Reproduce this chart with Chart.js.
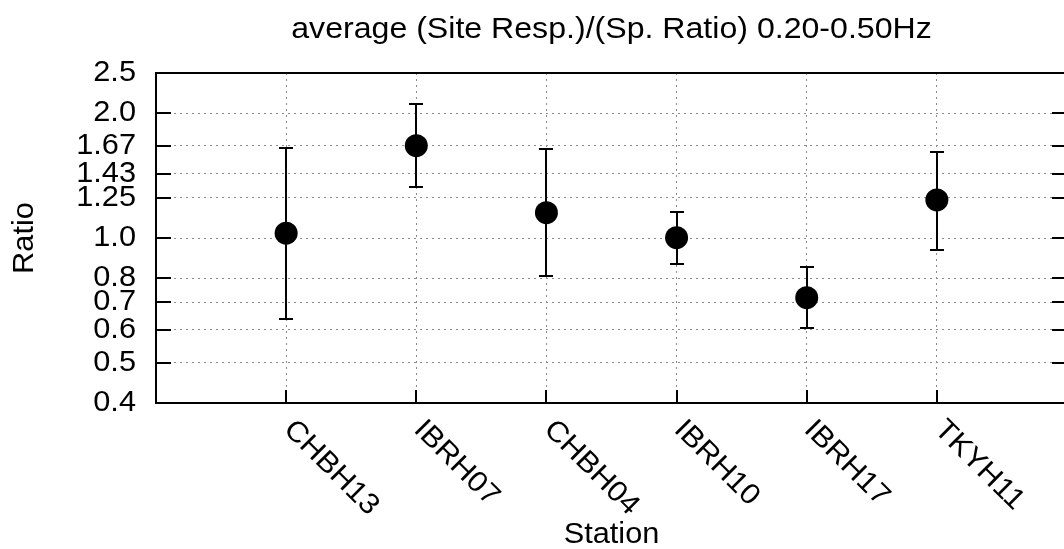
<!DOCTYPE html>
<html>
<head>
<meta charset="utf-8">
<title>Site response ratio</title>
<script src="https://cdn.jsdelivr.net/npm/chart.js@4.4.1/dist/chart.umd.min.js"></script>
<style>
    html, body { margin: 0; padding: 0; background: #fff; overflow: hidden; }
    #ratioChart { display: block; }
</style>
</head>
<body>
<canvas id="ratioChart" width="1067" height="549"></canvas>
<script>
const stations = ['CHBH13', 'IBRH07', 'CHBH04', 'IBRH10', 'IBRH17', 'TKYH11'];
const ratioMean = [1.027, 1.67, 1.151, 1.002, 0.718, 1.235];
const ratioLow = [0.638, 1.33, 0.81, 0.866, 0.608, 0.936];
const ratioHigh = [1.651, 2.105, 1.636, 1.155, 0.852, 1.61];
const yTickValues = [0.4, 0.5, 0.6, 0.7, 0.8, 1.0, 1.25, 1.43, 1.67, 2.0, 2.5];
const yTickLabels = ['0.4', '0.5', '0.6', '0.7', '0.8', '1.0', '1.25', '1.43', '1.67', '2.0', '2.5'];
const chartTitle = 'average (Site Resp.)/(Sp. Ratio) 0.20-0.50Hz';
const xTitle = 'Station';
const yTitle = 'Ratio';

const FONT = '"Liberation Sans", Arial, Helvetica, sans-serif';
const STRETCH = 1.06;

function drawText(ctx, text, x, y, opts) {
    ctx.save();
    ctx.translate(x, y);
    if (opts.rotate) ctx.rotate(opts.rotate);
    ctx.scale(opts.stretch || STRETCH, 1);
    ctx.font = (opts.size || 29) + 'px ' + FONT;
    ctx.textAlign = opts.align || 'left';
    ctx.textBaseline = opts.baseline || 'alphabetic';
    ctx.fillStyle = '#000';
    ctx.fillText(text, 0, 0);
    ctx.restore();
}

// frame, inward tics, error bars and all the text
const framePlugin = {
    id: 'framePlugin',
    beforeDatasetsDraw(chart) {
        const ctx = chart.ctx;
        const area = chart.chartArea;
        const xs = chart.scales.x;
        const ys = chart.scales.y;

        ctx.save();
        ctx.strokeStyle = '#000';
        ctx.lineWidth = 2;
        ctx.strokeRect(area.left, area.top, area.right - area.left, area.bottom - area.top);

        ctx.beginPath();
        yTickValues.forEach(v => {
            const y = Math.round(ys.getPixelForValue(v));
            ctx.moveTo(area.left, y);
            ctx.lineTo(area.left + 15, y);
            ctx.moveTo(area.right, y);
            ctx.lineTo(area.right - 15, y);
        });
        stations.forEach((_, i) => {
            const x = Math.round(xs.getPixelForValue(i + 1));
            ctx.moveTo(x, area.bottom);
            ctx.lineTo(x, area.bottom - 13);
        });
        ctx.stroke();

        // error bars
        ctx.beginPath();
        stations.forEach((_, i) => {
            const x = Math.round(xs.getPixelForValue(i + 1));
            const yHi = Math.round(ys.getPixelForValue(ratioHigh[i]));
            const yLo = Math.round(ys.getPixelForValue(ratioLow[i]));
            ctx.moveTo(x, yHi);
            ctx.lineTo(x, yLo);
            ctx.moveTo(x - 7, yHi);
            ctx.lineTo(x + 7, yHi);
            ctx.moveTo(x - 7, yLo);
            ctx.lineTo(x + 7, yLo);
        });
        ctx.stroke();
        ctx.restore();
    },
    afterDraw(chart) {
        const ctx = chart.ctx;
        const area = chart.chartArea;
        const xs = chart.scales.x;
        const ys = chart.scales.y;
        const midX = (area.left + area.right) / 2;

        drawText(ctx, chartTitle, midX, 38, { size: 30, align: 'center', stretch: 1.07 });

        yTickValues.forEach((v, i) => {
            drawText(ctx, yTickLabels[i], area.left - 20, ys.getPixelForValue(v), { align: 'right', baseline: 'middle' });
        });

        stations.forEach((name, i) => {
            const x = xs.getPixelForValue(i + 1);
            drawText(ctx, name, x + 2, area.bottom + 22, { baseline: 'middle', rotate: Math.PI / 4 });
        });

        drawText(ctx, xTitle, midX, 543, { align: 'center' });
        drawText(ctx, yTitle, 33, (area.top + area.bottom) / 2, { align: 'center', rotate: -Math.PI / 2 });
    }
};

const gridOpts = {
    color: '#8c8c8c',
    lineWidth: 1,
    drawTicks: false
};

new Chart(document.getElementById('ratioChart'), {
    type: 'scatter',
    data: {
        datasets: [{
            data: stations.map((_, i) => ({ x: i + 1, y: ratioMean[i] })),
            pointRadius: 11.5,
            pointHoverRadius: 11.5,
            pointBackgroundColor: '#000',
            pointBorderWidth: 0,
            showLine: false
        }]
    },
    options: {
        responsive: false,
        animation: false,
        events: [],
        layout: {
            autoPadding: false,
            padding: { top: 73, left: 0, right: 0, bottom: 0 }
        },
        plugins: {
            legend: { display: false },
            tooltip: { enabled: false },
            title: { display: false }
        },
        scales: {
            x: {
                type: 'linear',
                min: 0,
                max: 7,
                afterBuildTicks: s => { s.ticks = stations.map((_, i) => ({ value: i + 1 })); },
                afterFit: s => { s.height = 146; },
                grid: gridOpts,
                border: { display: false, dash: [2, 4] },
                ticks: { display: false }
            },
            y: {
                type: 'logarithmic',
                min: 0.4,
                max: 2.5,
                afterBuildTicks: s => { s.ticks = yTickValues.map(v => ({ value: v })); },
                afterFit: s => { s.width = 156; },
                grid: gridOpts,
                border: { display: false, dash: [2, 4] },
                ticks: { display: false }
            }
        }
    },
    plugins: [framePlugin]
});
</script>
</body>
</html>
